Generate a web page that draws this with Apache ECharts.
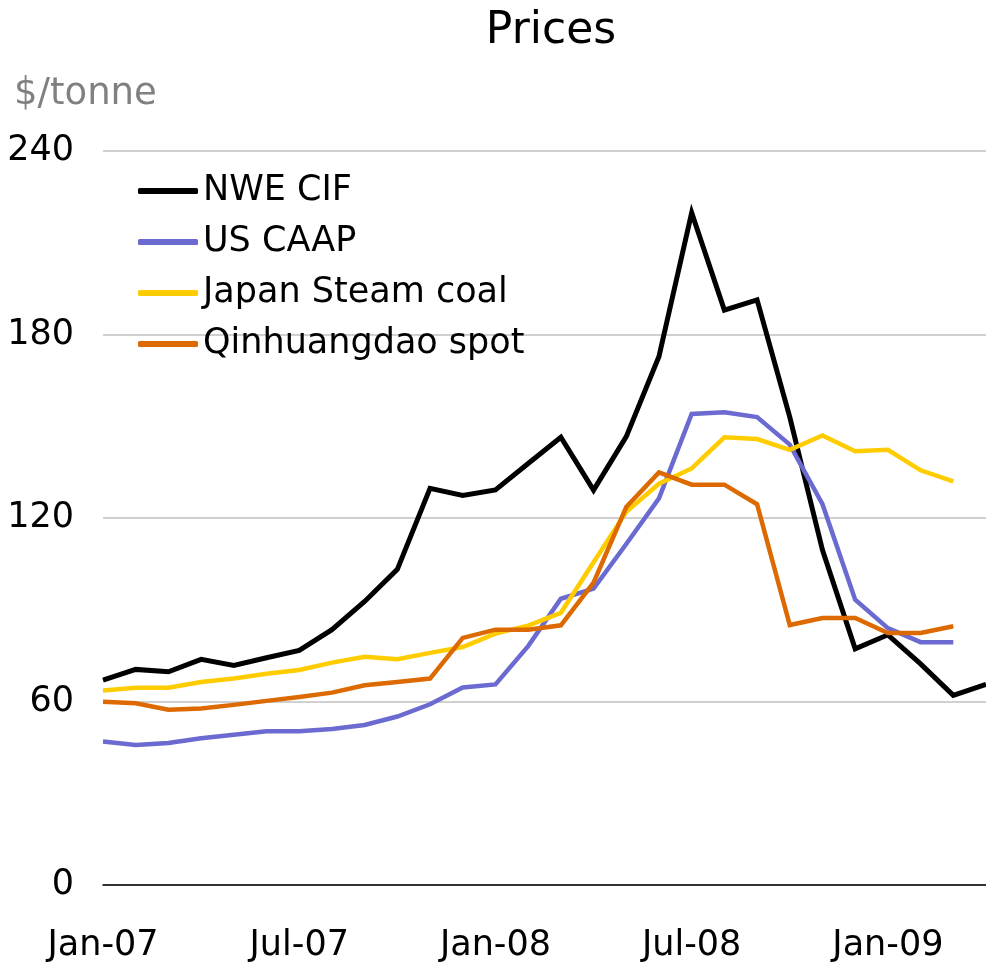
<!DOCTYPE html>
<html>
<head>
<meta charset="utf-8">
<script src="https://cdn.jsdelivr.net/npm/echarts@6/dist/echarts.min.js"></script>
<style>
  html, body { margin: 0; padding: 0; background: #fff; }
  #main { width: 986px; height: 966px; }
</style>
</head>
<body>
<div id="main"></div>
<script>
// monthly, Jan-07 .. Apr-09
const months = ['Jan-07','Feb-07','Mar-07','Apr-07','May-07','Jun-07','Jul-07','Aug-07','Sep-07','Oct-07','Nov-07','Dec-07',
  'Jan-08','Feb-08','Mar-08','Apr-08','May-08','Jun-08','Jul-08','Aug-08','Sep-08','Oct-08','Nov-08','Dec-08',
  'Jan-09','Feb-09','Mar-09','Apr-09'];

const nweCif = [67.0, 70.5, 69.7, 73.8, 71.8, 74.3, 76.7, 83.5, 92.7, 103.2, 129.7, 127.4,
  129.2, 137.8, 146.4, 129.1, 146.6, 172.8, 219.8, 188.0, 191.3, 153.0, 109.5, 77.2,
  81.8, 72.3, 62.0, 65.6];
const usCaap = [46.9, 45.8, 46.4, 48.0, 49.1, 50.3, 50.3, 51.0, 52.3, 55.1, 59.1, 64.6,
  65.6, 78.1, 93.6, 96.9, 111.5, 126.4, 154.0, 154.6, 153.0, 144.0, 124.5, 93.3,
  84.0, 79.4, 79.4, null];
const japanSteam = [63.6, 64.5, 64.5, 66.4, 67.5, 69.1, 70.3, 72.7, 74.6, 73.8, 75.9, 77.8,
  82.2, 84.8, 89.0, 105.5, 122.0, 131.2, 136.2, 146.4, 145.8, 142.3, 147.0, 141.8,
  142.3, 135.6, 132.0, null];
const qinhuangdao = [59.9, 59.4, 57.3, 57.7, 58.9, 60.2, 61.5, 62.9, 65.3, 66.4, 67.5, 80.8,
  83.5, 83.5, 84.9, 98.9, 123.6, 134.9, 130.9, 130.9, 124.5, 85.0, 87.3, 87.3,
  82.4, 82.4, 84.6, null];

const yTicks = [0, 60, 120, 180, 240];

const font = 'DejaVu Sans';
const chart = echarts.init(document.getElementById('main'), null, { renderer: 'canvas' });

function line(name, data, color, width) {
  return {
    name: name,
    type: 'line',
    data: data,
    showSymbol: false,
    symbol: 'none',
    connectNulls: false,
    lineStyle: { color: color, width: width, join: 'miter' },
    itemStyle: { color: color },
    animation: false
  };
}

var option = {
  backgroundColor: '#fff',
  textStyle: { fontFamily: font },
  title: [
    {
      text: 'Prices',
      left: 546,
      top: 5,
      textAlign: 'center',
      textStyle: { fontFamily: font, fontSize: 44, fontWeight: 'normal', color: '#000' }
    },
    {
      text: '$/tonne',
      left: 9,
      top: 71,
      textStyle: { fontFamily: font, fontSize: 37, fontWeight: 'normal', color: '#808080' }
    }
  ],
  legend: {
    orient: 'vertical',
    left: 133,
    top: 166,
    itemWidth: 60,
    itemHeight: 6,
    itemGap: 11,
    icon: 'roundRect',
    textStyle: { fontFamily: font, fontSize: 35, color: '#000', lineHeight: 40 },
    data: ['NWE CIF', 'US CAAP', 'Japan Steam coal', 'Qinhuangdao spot']
  },
  grid: {
    left: 103,
    right: 0,
    top: 151,
    bottom: 81,
    containLabel: false
  },
  xAxis: {
    type: 'category',
    boundaryGap: false,
    data: months,
    axisLine: { lineStyle: { color: '#000', width: 1.5 } },
    axisTick: { show: false },
    axisLabel: {
      interval: 5,
      margin: 43,
      fontFamily: font,
      fontSize: 35,
      color: '#000'
    },
    splitLine: { show: false }
  },
  yAxis: {
    type: 'value',
    min: yTicks[0],
    max: yTicks[yTicks.length - 1],
    interval: 60,
    axisLine: { show: false },
    axisTick: { show: false },
    axisLabel: {
      margin: 29,
      fontFamily: font,
      fontSize: 35,
      color: '#000'
    },
    splitLine: { lineStyle: { color: '#d0d0d0', width: 2 } }
  },
  series: [
    line('NWE CIF', nweCif, '#000000', 5),
    line('US CAAP', usCaap, '#6a6ad0', 4.5),
    line('Japan Steam coal', japanSteam, '#ffcc00', 4.5),
    line('Qinhuangdao spot', qinhuangdao, '#dc6a00', 4.5)
  ]
};

chart.setOption(option);
</script>
</body>
</html>
